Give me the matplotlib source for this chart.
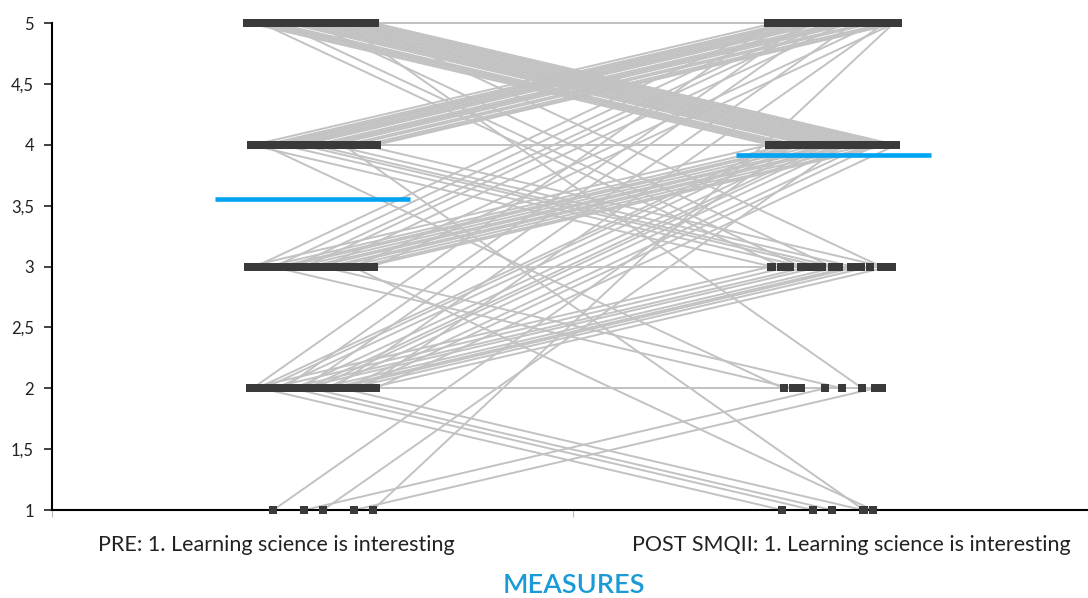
import matplotlib.pyplot as plt
import numpy as np

plt.rcParams['font.family'] = ['Lato', 'DejaVu Sans']

# score levels of the Likert item
levels = [5, 4, 3, 2, 1]
# number of students moving from a PRE score (rows) to a POST score (columns), same order as levels
counts = [
    [16, 20, 4, 1, 0],
    [17, 9, 6, 1, 1],
    [7, 12, 4, 2, 1],
    [5, 10, 9, 2, 4],
    [1, 2, 0, 2, 0],
]
measures = ["PRE: 1. Learning science is interesting",
            "POST SMQII: 1. Learning science is interesting"]
ytick_vals = [1, 1.5, 2, 2.5, 3, 3.5, 4, 4.5, 5]

# one entry per student
pre, post = [], []
for i, a in enumerate(levels):
    for j, b in enumerate(levels):
        pre += [a] * counts[i][j]
        post += [b] * counts[i][j]
pre = np.array(pre)
post = np.array(post)

# spread the points of each column sideways (deterministic, golden-ratio steps)
n = len(pre)
jit = ((np.arange(n) * 0.618034) % 1 - 0.5) * 0.25

fig = plt.figure(figsize=(10.88, 5.98), dpi=100)
ax = fig.add_axes([0.0478, 0.147, 0.9577, 0.8144])

for k in range(n):
    ax.plot([1 + jit[k], 2 + jit[k]], [pre[k], post[k]], color="#c2c2c2",
            lw=1.4, zorder=1, clip_on=False)

ax.scatter(1 + jit, pre, marker="s", s=38, color="#3a3a3a", linewidths=0,
           zorder=3, clip_on=False)
ax.scatter(2 + jit, post, marker="s", s=38, color="#3a3a3a", linewidths=0,
           zorder=3, clip_on=False)

# group means
for x, vals in [(1, pre), (2, post)]:
    ax.plot([x - 0.187, x + 0.187], [vals.mean()] * 2, color="#00a2f2", lw=3.3,
            solid_capstyle="butt", zorder=4)

ax.set_xlim(0.5, 2.5)
ax.set_ylim(1, 5)
ax.spines['top'].set_visible(False)
ax.spines['right'].set_visible(False)
ax.spines['left'].set_linewidth(1.5)
ax.spines['bottom'].set_linewidth(1.5)
ax.spines['bottom'].set_zorder(2)

ax.set_yticks(ytick_vals)
ax.set_yticklabels([f"{v:g}".replace(".", ",") for v in ytick_vals])
ax.tick_params(axis='y', length=6, width=1.2, labelsize=12, pad=7, colors="#222222")
ax.set_xticks([0.5, 1.5, 2.5])
ax.set_xticklabels([])
ax.tick_params(axis='x', length=5, width=0.8, color="#bbbbbb")

for x, lab in zip([0.93, 2.035], measures):
    ax.text(x, -0.072, lab, transform=ax.get_xaxis_transform(), ha="center",
            va="center", fontsize=15.5, color="#222222")

fig.text(0.527, 0.021, "MEASURES", ha="center", va="center", fontsize=19.5,
         color="#1a9bd7", fontweight="semibold")

fig.savefig("out.png", dpi=100)
